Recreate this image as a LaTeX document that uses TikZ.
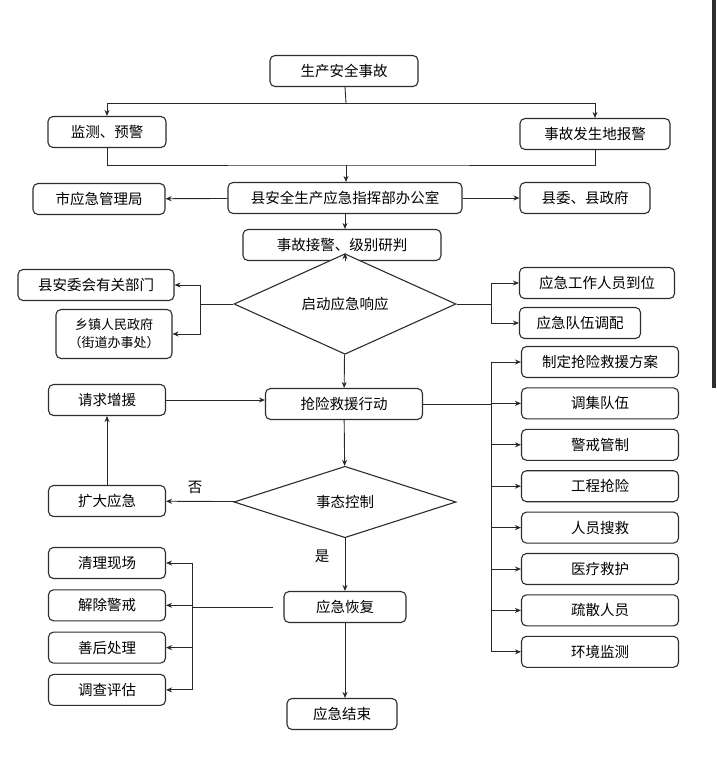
\documentclass[tikz,border=0pt]{standalone}
\usepackage{fontspec}
\newfontfamily\cjk{Noto Sans CJK SC}
\usepackage{tikz}
\usetikzlibrary{arrows.meta,shapes.geometric}
\usepackage{xcolor}
\definecolor{edgegray}{RGB}{45,45,45}
\definecolor{linegray}{RGB}{40,40,40}
\definecolor{bargray}{RGB}{47,47,47}
\tikzset{
  stepbox/.style={draw=edgegray,rounded corners=5pt,minimum height=31pt,
    align=center,inner sep=2pt,line width=1.1pt,fill=white,
    font=\cjk\fontsize{14.5pt}{17pt}\selectfont},
  diabox/.style={diamond,draw=edgegray,line width=1.1pt,minimum width=222pt,
    minimum height=57pt,inner sep=0pt,fill=white,
    font=\cjk\fontsize{14.5pt}{17pt}\selectfont},
  flow/.style={-{Stealth[length=6pt,width=5pt]},line width=0.9pt,draw=linegray},
  plainline/.style={line width=0.9pt,draw=linegray},
  tagnote/.style={font=\cjk\fontsize{14.5pt}{17pt}\selectfont,inner sep=1pt}
}
\begin{document}
\begin{tikzpicture}[x=1pt,y=-1pt]
  \useasboundingbox[fill=white] (0,0) rectangle (716,760);
  \fill[bargray] (712,0) rectangle (716,388);
  % top part
  \node[stepbox,minimum width=148pt] (accident) at (344,71) {生产安全事故};
  \node[stepbox,minimum width=118pt] (monitor) at (107,132) {监测、预警};
  \node[stepbox,minimum width=150pt] (report) at (595,134) {事故发生地报警};
  \node[stepbox,minimum width=234pt] (office) at (345,198) {县安全生产应急指挥部办公室};
  \node[stepbox,minimum width=132pt] (city) at (99,199) {市应急管理局};
  \node[stepbox,minimum width=130pt] (county) at (585,198) {县委、县政府};
  \node[stepbox,minimum width=198pt] (judge) at (342,245) {事故接警、级别研判};
  \coordinate (split) at (346,103);
  \coordinate (merge) at (346,165);
  \draw[plainline] (accident) -- (split);
  \draw[flow] (split) -| (monitor);
  \draw[flow] (split) -| (report);
  \draw[plainline] (monitor) |- (merge) -| (report);
  \draw[flow] (merge) -- (merge |- office.north);
  \draw[flow] (office) -- (city);
  \draw[flow] (office) -- (county);
  \draw[flow] (office) -- (office |- judge.north);
  % response
  \node[diabox] (start) at (345,304) {启动应急响应};
  \node[stepbox,minimum width=156pt] (depts) at (96,285) {县安委会有关部门};
  \node[stepbox,minimum width=116pt,minimum height=49pt,
    font=\cjk\fontsize{13pt}{18pt}\selectfont] (town) at (114,334) {乡镇人民政府\\（街道办事处）};
  \node[stepbox,minimum width=155pt] (staff) at (597,283) {应急工作人员到位};
  \node[stepbox,minimum width=121pt] (team) at (580,323) {应急队伍调配};
  \coordinate (lfork) at (200,304);
  \coordinate (rfork) at (491,304);
  \draw[flow] (judge.south -| start.north) -- (start);
  \draw[plainline] (start) -- (lfork);
  \draw[flow] (lfork) |- (depts);
  \draw[flow] (lfork) |- (town);
  \draw[plainline] (start) -- (rfork);
  \draw[flow] (rfork) |- (staff);
  \draw[flow] (rfork) |- (team);
  % rescue
  \node[stepbox,minimum width=157pt] (rescue) at (344,404) {抢险救援行动};
  \node[stepbox,minimum width=117pt] (askhelp) at (107,400) {请求增援};
  \draw[flow] (start) -- (rescue);
  \draw[flow] (askhelp) -- (askhelp -| rescue.west);
  \coordinate (rtop) at (491,362);
  \coordinate (rbot) at (491,652);
  \draw[plainline] (rtop) -- (rbot);
  \draw[plainline] (rescue) -- (rescue -| rtop);
  \foreach \name/\txt [count=\i] in {plan/制定抢险救援方案,gather/调集队伍,guard/警戒管制,
      works/工程抢险,search/人员搜救,medic/医疗救护,evac/疏散人员,envi/环境监测}{
    \node[stepbox,minimum width=157pt] (\name) at (600,{362+41.4*(\i-1)}) {\txt};
    \draw[flow] (rtop |- \name) -- (\name);
  }
  % control
  \node[diabox] (control) at (345,502) {事态控制};
  \node[stepbox,minimum width=117pt] (expand) at (107,501) {扩大应急};
  \draw[flow] (rescue) -- (control);
  \draw[flow] (control) -- (expand);
  \draw[flow] (expand) -- (askhelp);
  \node[tagnote] (no) at (195,487) {否};
  \node[tagnote] (yes) at (322,556) {是};
  % recovery
  \node[stepbox,minimum width=122pt] (recover) at (345,607) {应急恢复};
  \node[stepbox,minimum width=110pt] (finish) at (342,714) {应急结束};
  \draw[flow] (control) -- (recover);
  \draw[flow] (recover) -- (recover |- finish.north);
  \coordinate (ltop) at (192,563);
  \coordinate (lbot) at (192,690);
  \draw[plainline] (ltop) -- (lbot);
  \draw[plainline,shorten <=10pt] (recover.west) -- (recover.west -| ltop);
  \foreach \name/\txt [count=\i] in {clean/清理现场,lift/解除警戒,after/善后处理,survey/调查评估}{
    \node[stepbox,minimum width=117pt] (\name) at (107,{563+42.3*(\i-1)}) {\txt};
    \draw[flow] (ltop |- \name) -- (\name);
  }
\end{tikzpicture}
\end{document}
